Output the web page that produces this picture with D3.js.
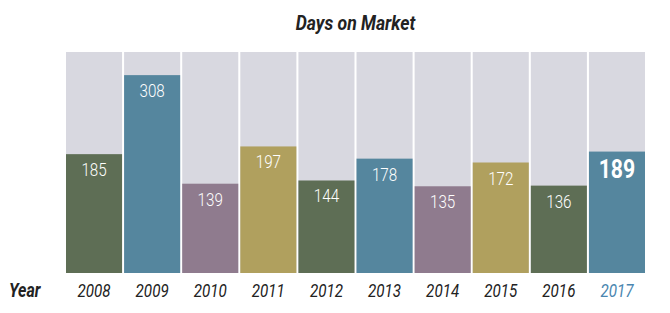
<!DOCTYPE html>
<html>
<head>
<meta charset="utf-8">
<script src="https://cdn.jsdelivr.net/npm/d3@7"></script>
<style>
  body { margin: 0; background: #fff; }
  text { font-family: Roboto, "DejaVu Sans Condensed", sans-serif; }
</style>
</head>
<body>
<div id="chart"></div>
<script>
// data
const years = ["2008", "2009", "2010", "2011", "2012", "2013", "2014", "2015", "2016", "2017"];
const days = [185, 308, 139, 197, 144, 178, 135, 172, 136, 189];
const barColors = ["#5e6e55", "#55869e", "#8f7b8e", "#b0a05e"];
const maxDays = 344;

// roboto squeezed to look like a condensed face
const squeeze = 0.8;

const width = 670, height = 313;
const margin = { top: 52, right: 25, bottom: 40, left: 66 };
const innerW = width - margin.left - margin.right;
const innerH = height - margin.top - margin.bottom;

const svg = d3.select("#chart").append("svg")
  .attr("width", width)
  .attr("height", height);

const g = svg.append("g")
  .attr("transform", `translate(${margin.left}, ${margin.top})`);

// scales
const scaleX = d3.scaleBand()
  .domain(years)
  .range([0, innerW])
  .paddingInner(0.035)
  .paddingOuter(0);
const scaleY = d3.scaleLinear()
  .domain([0, maxDays])
  .range([innerH, 0]);

const isLast = d => d === years[years.length - 1];

// title
svg.append("text")
  .attr("transform", `translate(${margin.left + innerW / 2}, 30) scale(0.88, 1)`)
  .attr("text-anchor", "middle")
  .attr("font-size", 20)
  .attr("font-weight", "bold")
  .attr("font-style", "italic")
  .attr("fill", "#222")
  .text("Days on Market");

// background columns
g.selectAll("rect.bg")
  .data(years)
  .join("rect")
  .attr("class", "bg")
  .attr("x", d => scaleX(d))
  .attr("y", 0)
  .attr("width", scaleX.bandwidth())
  .attr("height", innerH)
  .attr("fill", "#d8d8e0");

// bars
g.selectAll("rect.bar")
  .data(years)
  .join("rect")
  .attr("class", "bar")
  .attr("x", d => scaleX(d))
  .attr("y", (d, i) => scaleY(days[i]))
  .attr("width", scaleX.bandwidth())
  .attr("height", (d, i) => innerH - scaleY(days[i]))
  .attr("fill", (d, i) => barColors[i % barColors.length]);

// value labels
g.selectAll("text.val")
  .data(years)
  .join("text")
  .attr("class", "val")
  .attr("transform", (d, i) => {
    const x = scaleX(d) + scaleX.bandwidth() / 2;
    const y = scaleY(days[i]) + (isLast(d) ? 26 : 22);
    return `translate(${x}, ${y}) scale(${isLast(d) ? 0.85 : squeeze}, 1)`;
  })
  .attr("text-anchor", "middle")
  .attr("fill", "#fff")
  .attr("font-size", d => isLast(d) ? 25 : 19)
  .attr("font-weight", d => isLast(d) ? "bold" : 300)
  .text((d, i) => days[i]);

// x axis labels
const axisX = g.append("g")
  .attr("transform", `translate(0, ${innerH})`)
  .call(d3.axisBottom(scaleX).tickSize(0).tickPadding(0));
axisX.select(".domain").remove();
axisX.selectAll("text")
  .attr("font-family", null)
  .attr("font-size", 19)
  .attr("font-style", "italic")
  .attr("fill", d => isLast(d) ? "#4a86b0" : "#222")
  .attr("y", 0)
  .attr("dy", null)
  .attr("transform", `translate(0, 24) scale(${squeeze}, 1)`);

svg.append("text")
  .attr("transform", `translate(9, 297) scale(${squeeze}, 1)`)
  .attr("font-size", 20)
  .attr("font-weight", "bold")
  .attr("font-style", "italic")
  .attr("fill", "#222")
  .text("Year");
</script>
</body>
</html>
